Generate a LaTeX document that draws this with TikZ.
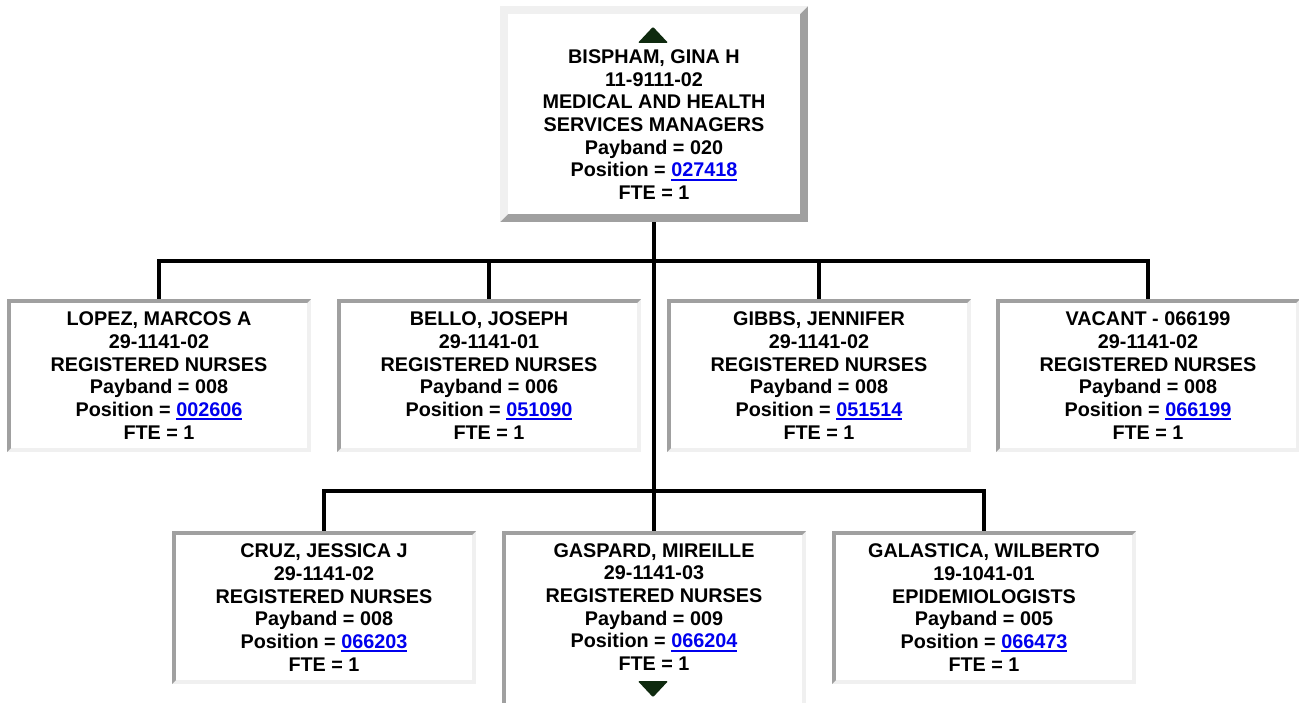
\documentclass[tikz,border=0pt]{standalone}
\usepackage{fontspec}
\setmainfont{Liberation Sans}

\definecolor{edgedark}{HTML}{A0A0A0}
\definecolor{edgelight}{HTML}{F0F0F0}
\definecolor{poslink}{HTML}{0000EE}
\definecolor{navgreen}{HTML}{0F2A0F}

% underlined position number, like a link
\newcommand{\posno}[1]{{\color{poslink}\setbox0=\hbox{#1}\rlap{\rule[-4pt]{\wd0}{2pt}}\box0}}
\newcommand{\cardtext}[5]{#1\\#2\\#3\\Payband = #4\\Position = \posno{#5}\\FTE = 1}

\tikzset{
  card/.style={font=\fontsize{19.8}{22.7}\selectfont\bfseries, align=center, inner sep=0pt},
  bevel/.style n args={3}{fill=white, path picture={
    \coordinate (sw) at (path picture bounding box.south west);
    \coordinate (ne) at (path picture bounding box.north east);
    \coordinate (nw) at (sw|-ne);
    \fill[#2] (sw) rectangle (ne);
    \fill[#1] (sw) -- (nw) -- (ne) -- ([shift={(-#3,-#3)}]ne) -- ([shift={(#3,-#3)}]nw) -- ([shift={(#3,#3)}]sw) -- cycle;
    \fill[white] ([shift={(#3,#3)}]sw) rectangle ([shift={(-#3,-#3)}]ne);
  }},
  sunkbox/.style={card, minimum width=304pt, minimum height=153pt, bevel={edgedark}{edgelight}{4pt}},
  raisedbox/.style={card, minimum width=308pt, minimum height=216pt, bevel={edgelight}{edgedark}{8pt}},
  link/.style={line width=4pt},
  navtri/.style={fill=navgreen, rounded corners=1pt}
}

\begin{document}
\begin{tikzpicture}[x=1pt, y=-1pt]
  \useasboundingbox (0,0) rectangle (1299,702);

  % manager
  \node[raisedbox] (mgr) at (654,114) {};
  \node[card] (mgrtext) at (654,124.5) {BISPHAM, GINA H\\11-9111-02\\MEDICAL AND HEALTH\\SERVICES MANAGERS\\Payband = 020\\Position = \posno{027418}\\FTE = 1};
  \fill[navtri] ([shift={(-1pt,-21pt)}]mgr.north) -- ++(15,16) -- ++(-30,0) -- cycle;

  % staff
  \foreach \id/\x/\y/\who/\soc/\job/\pb/\pn in {
      lopez/159/375.5/{LOPEZ, MARCOS A}/29-1141-02/REGISTERED NURSES/008/002606,
      bello/489/375.5/{BELLO, JOSEPH}/29-1141-01/REGISTERED NURSES/006/051090,
      gibbs/819/375.5/{GIBBS, JENNIFER}/29-1141-02/REGISTERED NURSES/008/051514,
      vacant/1148/375.5/VACANT - 066199/29-1141-02/REGISTERED NURSES/008/066199,
      cruz/324/607.5/{CRUZ, JESSICA J}/29-1141-02/REGISTERED NURSES/008/066203,
      galastica/984/607.5/{GALASTICA, WILBERTO}/19-1041-01/EPIDEMIOLOGISTS/005/066473}
    \node[sunkbox] (\id) at (\x,\y) {\cardtext{\who}{\soc}{\job}{\pb}{\pn}};

  \node[sunkbox, minimum height=180pt] (gaspard) at (654,621) {};
  \node[card] (gaspardtext) at (654,607) {\cardtext{GASPARD, MIREILLE}{29-1141-03}{REGISTERED NURSES}{009}{066204}};
  \fill[navtri] ([shift={(-1pt,14pt)}]gaspard.south) -- ++(15,-16) -- ++(-30,0) -- cycle;

  % reporting lines
  \coordinate (bus1) at (654,261);
  \coordinate (bus2) at (654,491);
  \draw[link] (mgr.south) -- (gaspard.north);
  \draw[link] (lopez.north) |- (bus1) -| (vacant.north);
  \draw[link] (cruz.north) |- (bus2) -| (galastica.north);
  \foreach \id in {bello, gibbs}
    \draw[link] (\id.north) -- (\id.north |- bus1);
\end{tikzpicture}
\end{document}
